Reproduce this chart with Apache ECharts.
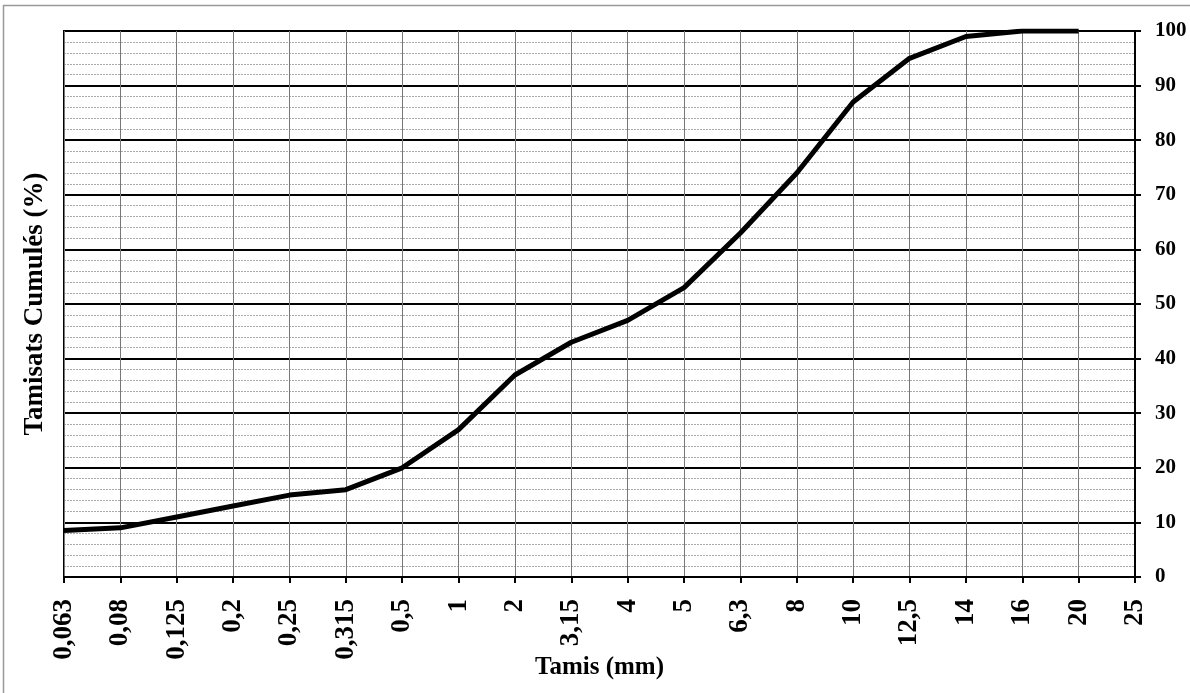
<!DOCTYPE html>
<html>
<head>
<meta charset="utf-8">
<script src="https://cdn.jsdelivr.net/npm/echarts@6/dist/echarts.min.js"></script>
<style>
html,body{margin:0;padding:0;background:#fff;}
#chart{width:1190px;height:693px;}
</style>
</head>
<body>
<div id="chart"></div>
<script>
const categories = ['0,063','0,08','0,125','0,2','0,25','0,315','0,5','1','2','3,15','4','5','6,3','8','10','12,5','14','16','20','25'];
const passing = [8.5, 9, 11, 13, 15, 16, 20, 27, 37, 43, 47, 53, 63, 74, 87, 95, 99, 100, 100, null];
const yTitle = 'Tamisats Cumulés (%)';
const xTitle = 'Tamis (mm)';

const font = '"Liberation Serif","Times New Roman",serif';
const chart = echarts.init(document.getElementById('chart'));
chart.setOption({
  animation: false,
  backgroundColor: '#fff',
  grid: { left: 64, right: 55, top: 31, bottom: 116, show: true, borderColor: '#000', borderWidth: 2, containLabel: false, outerBoundsMode: 'none' },
  graphic: [
    { type: 'line', shape: { x1: 3.5, y1: 5, x2: 3.5, y2: 693 }, style: { stroke: '#999', lineWidth: 1.5 } },
    { type: 'line', shape: { x1: 3, y1: 5.5, x2: 1190, y2: 5.5 }, style: { stroke: '#999', lineWidth: 1.5 } }
  ],
  xAxis: {
    type: 'category',
    data: categories,
    boundaryGap: false,
    name: xTitle,
    nameLocation: 'middle',
    nameGap: 78,
    nameMoveOverlap: false,
    nameTextStyle: { fontFamily: font, fontWeight: 'bold', fontSize: 25, color: '#000' },
    axisLine: { lineStyle: { color: '#000', width: 2 } },
    axisTick: { show: true, length: 6, lineStyle: { color: '#000', width: 2 } },
    axisLabel: { interval: 0, rotate: 90, margin: 22, fontFamily: font, fontWeight: 'bold', fontSize: 27, color: '#000' },
    splitLine: { show: true, interval: 0, lineStyle: { color: '#777', width: 1 } }
  },
  yAxis: [
    {
      type: 'value',
      position: 'right',
      min: 0, max: 100, interval: 10,
      axisLine: { show: true, lineStyle: { color: '#000', width: 2 } },
      axisTick: { show: true, length: 6, lineStyle: { color: '#000', width: 2 } },
      axisLabel: { margin: 20, fontFamily: font, fontWeight: 'bold', fontSize: 21, color: '#000' },
      splitLine: { show: true, lineStyle: { color: '#000', width: 2 } },
      minorTick: { show: false, splitNumber: 5 },
      minorSplitLine: { show: true, lineStyle: { color: '#aaa', width: 1, type: [2, 1] } }
    },
    {
      type: 'value',
      position: 'left',
      min: 0, max: 100,
      name: yTitle,
      nameLocation: 'middle',
      nameGap: 15,
      nameMoveOverlap: false,
      nameTextStyle: { fontFamily: font, fontWeight: 'bold', fontSize: 27, color: '#000' },
      axisLine: { show: false }, axisTick: { show: false }, axisLabel: { show: false }, splitLine: { show: false }
    }
  ],
  series: [{
    type: 'line',
    data: passing,
    yAxisIndex: 0,
    symbol: 'none',
    lineStyle: { color: '#000', width: 5 },
    z: 5
  }]
});
</script>
</body>
</html>
